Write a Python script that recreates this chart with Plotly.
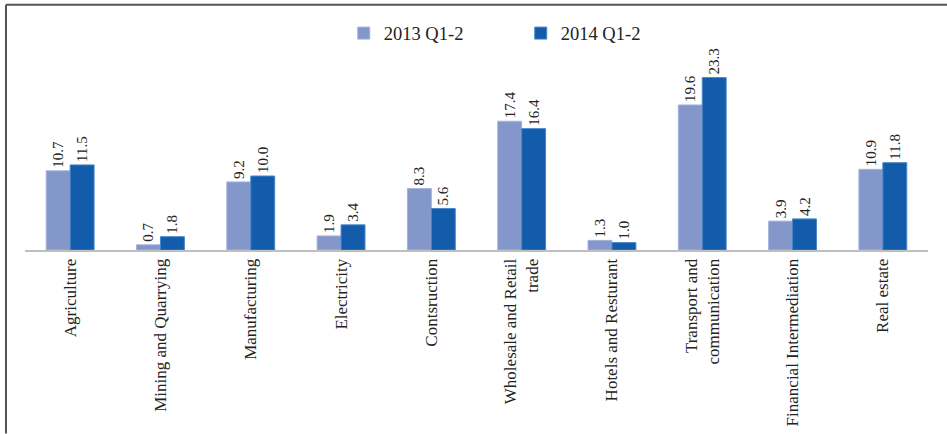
import plotly.graph_objects as go

categories = ["Agriculture", "Mining and Quarrying", "Manufacturing", "Electricity",
              "Contsruction", "Wholesale and Retail<br>trade", "Hotels and Resturant",
              "Transport and<br>communication", "Financial Intermediation", "Real estate"]
v2013 = [10.7, 0.7, 9.2, 1.9, 8.3, 17.4, 1.3, 19.6, 3.9, 10.9]
v2014 = [11.5, 1.8, 10.0, 3.4, 5.6, 16.4, 1.0, 23.3, 4.2, 11.8]
series_names = ["2013 Q1-2", "2014 Q1-2"]

FONT = "Liberation Serif"

fig = go.Figure()
fig.add_trace(go.Bar(
    x=categories, y=v2013, name=series_names[0],
    marker=dict(color="#8497CB", line=dict(color="#A3B3DC", width=1)),
    text=[f"{v:.1f}" for v in v2013], textposition="outside", textangle=-90,
    constraintext="none", cliponaxis=False,
    textfont=dict(family=FONT, size=15, color="#222222"),
))
fig.add_trace(go.Bar(
    x=categories, y=v2014, name=series_names[1],
    marker=dict(color="#135CAB", line=dict(color="#4A86C8", width=1)),
    text=[f"{v:.1f}" for v in v2014], textposition="outside", textangle=-90,
    constraintext="none", cliponaxis=False,
    textfont=dict(family=FONT, size=15, color="#222222"),
))

L, T, W, H = 25, 64.5, 903, 185.5

def px_x(p):
    return (p - L) / W

def px_y(p):
    return (T + H - p) / H

fig.update_layout(
    width=947, height=434,
    margin=dict(l=L, r=947 - L - W, t=T, b=434 - T - H, autoexpand=False),
    paper_bgcolor="white", plot_bgcolor="white",
    barmode="group", bargap=0.47, bargroupgap=0.0,
    font=dict(family=FONT, size=16, color="#222222"),
    legend=dict(orientation="h", x=0.549, xanchor="center", y=px_y(33), yanchor="middle",
                font=dict(family=FONT, size=18.5, color="#222222"),
                itemwidth=30, entrywidth=132, traceorder="normal", bgcolor="rgba(0,0,0,0)"),
    showlegend=True,
    xaxis=dict(showline=True, linecolor="#BFBFBF", linewidth=2, ticks="",
               tickangle=-90, tickfont=dict(family=FONT, size=17, color="#222222"),
               showgrid=False, zeroline=False, range=[-0.5, 9.5]),
    yaxis=dict(range=[0, 25], visible=False, showgrid=False, zeroline=False),
    shapes=[
        dict(type="line", xref="paper", yref="paper", x0=px_x(6), x1=px_x(6),
             y0=px_y(4), y1=px_y(434), line=dict(color="#555555", width=2)),
        dict(type="line", xref="paper", yref="paper", x0=px_x(6), x1=px_x(947),
             y0=px_y(4), y1=px_y(4), line=dict(color="#555555", width=2)),
    ],
)

fig.write_html("out.html")
